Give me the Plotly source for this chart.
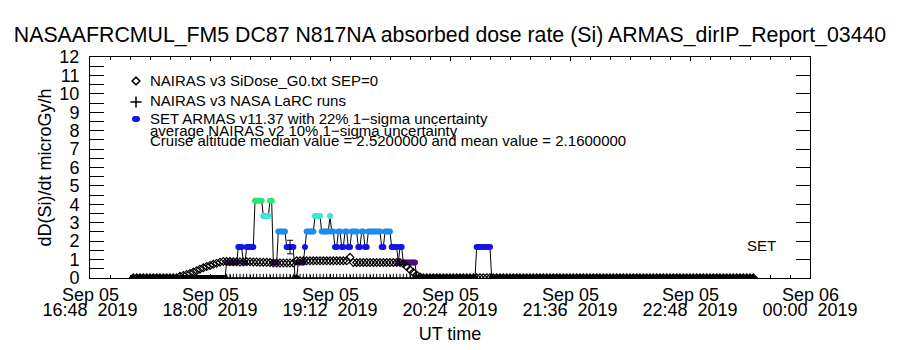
import plotly.graph_objects as go
from datetime import datetime, timedelta

# ---------------- data ----------------
T0 = datetime(2019, 9, 5, 16, 48)          # left edge of the time axis (UT)
T_END = datetime(2019, 9, 6, 0, 0)          # right edge of the time axis (UT)

# x tick marks (minutes after 16:48) and their labels
xtick_minutes = [0, 72, 144, 216, 288, 360, 432]
xtick_day = ["Sep 05", "Sep 05", "Sep 05", "Sep 05", "Sep 05", "Sep 05", "Sep 06"]
xtick_time = ["16:48", "18:00", "19:12", "20:24", "21:36", "22:48", "00:00"]
xtick_year = ["2019"] * 7

ytick_values = [0, 1, 2, 3, 4, 5, 6, 7, 8, 9, 10, 11, 12]

# NAIRAS v3 SiDose_G0 (open diamonds), 2-minute cadence from 17:14 UT
nairas_start_min = 26
nairas_step_min = 2
nairas_dose = (
    [0.02] * 14
    + [0.10, 0.14, 0.19, 0.25, 0.32, 0.40, 0.48, 0.55, 0.62, 0.68, 0.74, 0.80, 0.86, 0.90]
    + [0.90, 0.89, 0.88, 0.88, 0.87, 0.87, 0.88, 0.88, 0.87, 0.87, 0.86, 0.86, 0.85, 0.84]
    + [0.82] * 7
    + [0.93] * 16
    + [1.12]
    + [0.84] * 15
    + [0.78, 0.62, 0.45, 0.30, 0.16, 0.05]
    + [0.02] * 100
)

# NAIRAS v3 NASA LaRC runs (plus signs), 2-minute cadence from 18:10 UT
larc_start_min = 82
larc_step_min = 2
larc_dose = [0.0] * 58

# SET ARMAS quantised dose-rate levels and the colour of each level
armas_levels = [0.0, 0.84, 1.68, 2.52, 3.36, 4.20]
armas_level_colors = ["#000000", "#4b0a82", "#1414e6", "#1e8cf0", "#3ce6d2", "#28e678"]
# ARMAS record, 1-minute cadence from 17:14 UT, run-length coded (level index, number of records)
armas_start_min = 26
armas_step_min = 1
armas_run_level = [0, 1, 2, 1, 2, 5, 4, 5, 1, 3, 2, 0, 1, 2, 3, 4, 3, 4, 3, 2,
                   3, 2, 3, 2, 3, 2, 3, 2, 3, 2, 3, 2, 1, 2, 1, 0, 2, 0]
armas_run_length = [56, 7, 3, 2, 5, 5, 4, 2, 3, 5, 5, 2, 4, 1, 5, 4, 5, 1, 2, 2,
                    2, 2, 2, 2, 4, 2, 2, 2, 8, 2, 4, 4, 1, 2, 8, 36, 9, 158]

# single ARMAS point drawn with its 22 % 1-sigma error bar
armas_err_min = 120
armas_err_value = 1.68
armas_err_sigma = 0.37

title_text = "NASAAFRCMUL_FM5 DC87 N817NA absorbed dose rate (Si) ARMAS_dirIP_Report_03440"
legend_lines = [
    "NAIRAS v3 SiDose_G0.txt SEP=0",
    "NAIRAS v3 NASA LaRC runs",
    "SET ARMAS v11.37 with 22% 1\u2212sigma uncertainty",
    "average NAIRAS v2 10% 1\u2212sigma uncertainty",
    "Cruise altitude median value = 2.5200000 and mean value = 2.1600000",
]

# ---------------- build series ----------------
def tm(m):
    return T0 + timedelta(minutes=m)

nairas_t = [tm(nairas_start_min + i * nairas_step_min) for i in range(len(nairas_dose))]
larc_t = [tm(larc_start_min + i * larc_step_min) for i in range(len(larc_dose))]

armas_idx = []
for lev, n in zip(armas_run_level, armas_run_length):
    armas_idx += [lev] * n
armas_t = [tm(armas_start_min + i * armas_step_min) for i in range(len(armas_idx))]
armas_v = [armas_levels[k] for k in armas_idx]
armas_c = [armas_level_colors[k] for k in armas_idx]

FONT = "Liberation Sans"
fig = go.Figure()

fig.add_trace(go.Scatter(
    x=armas_t, y=armas_v, mode="lines+markers",
    line=dict(color="black", width=1),
    marker=dict(color=armas_c, size=6, symbol="circle", line=dict(width=0)),
    showlegend=False, hoverinfo="skip"))

fig.add_trace(go.Scatter(
    x=nairas_t, y=nairas_dose, mode="markers",
    marker=dict(symbol="diamond-open", size=6, color="black", line=dict(width=1.2, color="black")),
    showlegend=False, hoverinfo="skip"))

fig.add_trace(go.Scatter(
    x=larc_t, y=larc_dose, mode="markers",
    marker=dict(symbol="cross-thin-open", size=6, color="black", line=dict(width=1, color="black")),
    showlegend=False, hoverinfo="skip"))

fig.add_trace(go.Scatter(
    x=[tm(armas_err_min)], y=[armas_err_value], mode="markers",
    marker=dict(size=1, color="black", opacity=0),
    error_y=dict(type="constant", value=armas_err_sigma, color="black", thickness=1, width=3),
    showlegend=False, hoverinfo="skip"))

# right-hand axis ticks (major only)
fig.add_trace(go.Scatter(
    x=[T0], y=[0], xaxis="x", yaxis="y3", mode="markers",
    marker=dict(size=1, opacity=0), showlegend=False, hoverinfo="skip"))

# legend symbols on a pixel-like overlay axis pair
fig.add_trace(go.Scatter(
    x=[136], y=[81], xaxis="x2", yaxis="y2", mode="markers", cliponaxis=False,
    marker=dict(symbol="diamond-open", size=6, color="black", line=dict(width=1.5, color="black")),
    showlegend=False, hoverinfo="skip"))
fig.add_trace(go.Scatter(
    x=[136], y=[102], xaxis="x2", yaxis="y2", mode="markers", cliponaxis=False,
    marker=dict(symbol="cross-thin-open", size=8, color="black", line=dict(width=1.5, color="black")),
    showlegend=False, hoverinfo="skip"))
fig.add_trace(go.Scatter(
    x=[135, 137], y=[119, 119], xaxis="x2", yaxis="y2", mode="markers", cliponaxis=False,
    marker=dict(symbol="circle", size=6, color="#1414e6", line=dict(width=0)),
    showlegend=False, hoverinfo="skip"))

annotations = []
legend_y = [80, 100, 118, 130, 140]
for txt, yy in zip(legend_lines, legend_y):
    annotations.append(dict(x=148, y=yy, xref="x2", yref="y2", text=txt, showarrow=False,
                            xanchor="left", yanchor="middle",
                            font=dict(family=FONT, size=15, color="black")))
annotations.append(dict(x=761, y=245, xref="x2", yref="y2", text="SET", showarrow=False,
                        xanchor="center", yanchor="middle",
                        font=dict(family=FONT, size=15, color="black")))
for m, d in zip(xtick_minutes, xtick_day):
    annotations.append(dict(x=tm(m), y=(278 - 295) / 221, xref="x", yref="paper", text=d,
                            showarrow=False, xanchor="center", yanchor="middle",
                            font=dict(family=FONT, size=18, color="black")))

fig.update_layout(
    width=900, height=350,
    margin=dict(l=90, r=90, t=57, b=72),
    paper_bgcolor="white", plot_bgcolor="white",
    title=dict(text=title_text, x=0.5, xanchor="center", y=1 - 35 / 350, yanchor="middle",
               yref="container", font=dict(family=FONT, size=21.3, color="black")),
    xaxis=dict(
        type="date", range=[T0, T_END],
        tickmode="array", tickvals=[tm(m) for m in xtick_minutes],
        ticktext=[f"{a}\u00a0\u00a0{b}" for a, b in zip(xtick_time, xtick_year)],
        ticks="inside", ticklen=4, tickwidth=1, tickcolor="black",
        minor=dict(dtick=12 * 60 * 1000, tick0=T0, ticks="inside", ticklen=3, tickcolor="black"),
        showline=True, linecolor="black", linewidth=1, mirror="ticks",
        showgrid=False, zeroline=False, automargin=False,
        ticklabelstandoff=15,
        tickfont=dict(family=FONT, size=18, color="black"),
        title=dict(text="UT time", standoff=8, font=dict(family=FONT, size=18, color="black")),
    ),
    yaxis=dict(
        range=[0, 12], tickmode="array", tickvals=ytick_values,
        ticks="inside", ticklen=14, tickwidth=1, tickcolor="black",
        minor=dict(dtick=0.5, ticks="inside", ticklen=14, tickcolor="black"),
        showline=True, linecolor="black", linewidth=1, mirror=True,
        showgrid=False, zeroline=False, automargin=False,
        ticklabelstandoff=6,
        tickfont=dict(family=FONT, size=18, color="black"),
        title=dict(text="dD(Si)/dt microGy/h", standoff=3,
                   font=dict(family=FONT, size=18, color="black")),
    ),
    yaxis3=dict(
        overlaying="y", side="right", range=[0, 12], tickmode="array", tickvals=ytick_values,
        ticks="inside", ticklen=14, tickwidth=1, tickcolor="black",
        showticklabels=False, showline=False, showgrid=False, zeroline=False, automargin=False,
    ),
    xaxis2=dict(overlaying="x", range=[90, 810], visible=False),
    yaxis2=dict(overlaying="y", range=[278, 57], visible=False),
    annotations=annotations,
)

fig.write_html("out.html")
